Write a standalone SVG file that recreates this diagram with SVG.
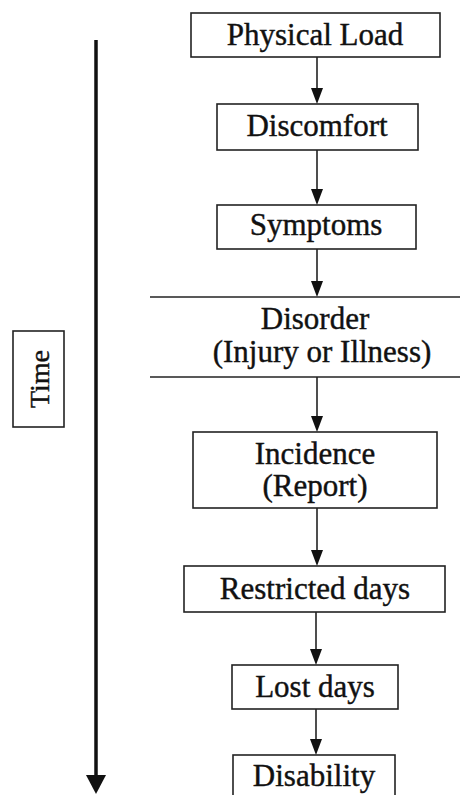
<svg xmlns="http://www.w3.org/2000/svg" width="460" height="795" viewBox="0 0 460 795">
<style>
.box{fill:#fff;stroke:#222;stroke-width:1.6}
.t{font-family:"Liberation Serif","Times New Roman",serif;font-size:31px;fill:#111;stroke:#111;stroke-width:0.4;text-anchor:middle}
.ln{stroke:#222;stroke-width:1.6;fill:none}
</style>
<rect width="460" height="795" fill="#fff"/>

<g id="time-axis">
<line x1="96" y1="40" x2="96" y2="778" stroke="#111" stroke-width="3.5"/>
<path d="M86,775 L106,775 L96,794 Z" fill="#111"/>
</g>
<g id="time">
<rect class="box" x="13" y="331" width="51" height="96" stroke-width="1.2"/>
<text class="t" style="font-size:28px" x="39" y="389" transform="rotate(-90 39 379)">Time</text>
</g>

<g id="connectors">
<line class="ln" x1="317" y1="57" x2="317" y2="88"/>
<path d="M311,88 L323,88 L317,104 Z" fill="#111"/>
<line class="ln" x1="317" y1="150" x2="317" y2="189"/>
<path d="M311,189 L323,189 L317,205 Z" fill="#111"/>
<line class="ln" x1="317" y1="249" x2="317" y2="281"/>
<path d="M311,281 L323,281 L317,297 Z" fill="#111"/>
<line class="ln" x1="317" y1="377" x2="317" y2="416"/>
<path d="M311,416 L323,416 L317,432 Z" fill="#111"/>
<line class="ln" x1="317" y1="508" x2="317" y2="550"/>
<path d="M311,550 L323,550 L317,566 Z" fill="#111"/>
<line class="ln" x1="316" y1="612" x2="316" y2="649"/>
<path d="M310,649 L322,649 L316,665 Z" fill="#111"/>
<line class="ln" x1="316" y1="709" x2="316" y2="739"/>
<path d="M310,739 L322,739 L316,755 Z" fill="#111"/>
</g>

<g id="physical-load">
<rect class="box" x="191" y="13" width="249" height="44"/>
<text class="t" x="315" y="45">Physical Load</text>
</g>
<g id="discomfort">
<rect class="box" x="217" y="104" width="201" height="46"/>
<text class="t" x="317" y="136">Discomfort</text>
</g>
<g id="symptoms">
<rect class="box" x="217" y="205" width="199" height="44"/>
<text class="t" x="316" y="235">Symptoms</text>
</g>
<g id="disorder">
<line class="ln" x1="150" y1="297" x2="460" y2="297"/>
<line class="ln" x1="150" y1="377" x2="460" y2="377"/>
<text class="t" x="315" y="329">Disorder</text>
<text class="t" x="322" y="362">(Injury or Illness)</text>
</g>
<g id="incidence">
<rect class="box" x="193" y="432" width="244" height="76"/>
<text class="t" x="315" y="464">Incidence</text>
<text class="t" x="315" y="496">(Report)</text>
</g>
<g id="restricted-days">
<rect class="box" x="184" y="566" width="261" height="46"/>
<text class="t" x="315" y="599">Restricted days</text>
</g>
<g id="lost-days">
<rect class="box" x="232" y="665" width="166" height="44"/>
<text class="t" x="315" y="697">Lost days</text>
</g>
<g id="disability">
<rect class="box" x="233" y="755" width="162" height="50"/>
<text class="t" x="314" y="786">Disability</text>
</g>
</svg>
